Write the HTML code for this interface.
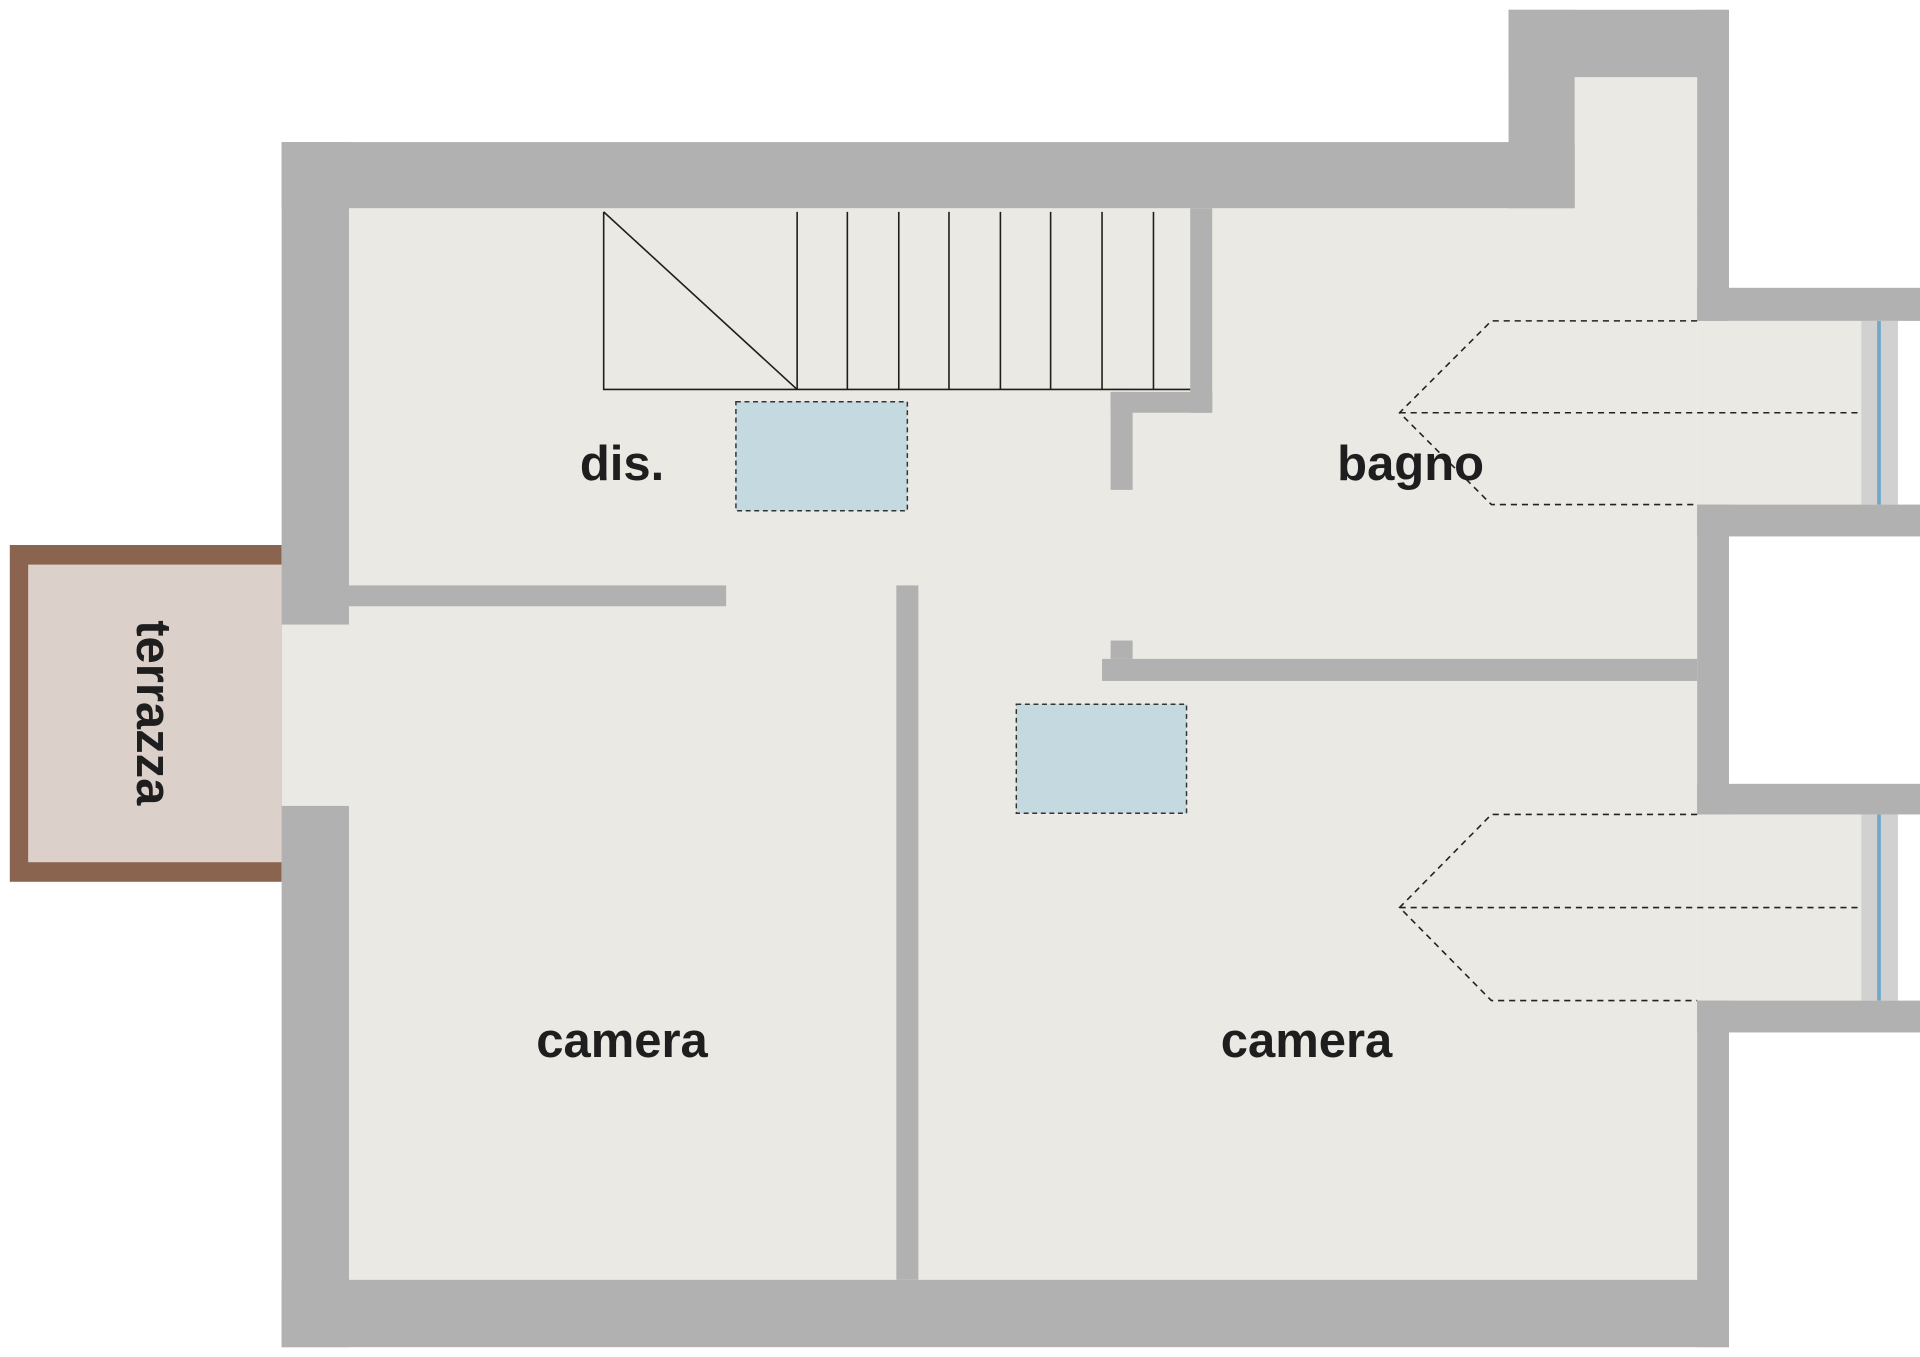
<!DOCTYPE html>
<html><head><meta charset="utf-8"><style>
html,body{margin:0;padding:0;background:#fff;width:1920px;height:1357px;overflow:hidden}
svg{display:block}
text{font-family:"Liberation Sans Narrow","Liberation Sans",sans-serif;font-weight:bold;fill:#1e1e1e;font-size:40px}
</style></head><body>
<svg width="1920" height="1357" viewBox="0 0 1568 1108" preserveAspectRatio="none">
<!-- floor -->
<rect x="285" y="170" width="1101" height="875" fill="#ebe9e3"/>
<rect x="1286" y="63" width="100" height="110" fill="#ebe9e3"/>
<rect x="230" y="510" width="55" height="148" fill="#ebe9e3"/>
<rect x="1386" y="262" width="134" height="150" fill="#ebe9e3"/>
<rect x="1386" y="665" width="134" height="152" fill="#ebe9e3"/>
<!-- windows -->
<rect x="1520" y="262" width="30" height="150" fill="#d1d1d1"/>
<rect x="1533" y="262" width="3" height="150" fill="#6fa8c8"/>
<rect x="1520" y="665" width="30" height="152" fill="#d1d1d1"/>
<rect x="1533" y="665" width="3" height="152" fill="#6fa8c8"/>
<!-- terrazza -->
<rect x="8" y="445" width="222" height="275" fill="#8b6450"/>
<rect x="23" y="461" width="207" height="243" fill="#dcd0cb"/>
<!-- walls -->
<g fill="#b1b1b1">
<rect x="230" y="116" width="1056" height="54"/>
<rect x="1232" y="8" width="54" height="162"/>
<rect x="1232" y="8" width="180" height="55"/>
<rect x="1386" y="8" width="26" height="254"/>
<rect x="1386" y="235" width="182" height="27"/>
<rect x="1386" y="412" width="26" height="253"/>
<rect x="1386" y="412" width="182" height="26"/>
<rect x="1386" y="640" width="182" height="25"/>
<rect x="1386" y="817" width="26" height="283"/>
<rect x="1386" y="817" width="182" height="26"/>
<rect x="230" y="116" width="55" height="394"/>
<rect x="230" y="658" width="55" height="442"/>
<rect x="230" y="1045" width="1182" height="55"/>
<rect x="285" y="478" width="308" height="17"/>
<rect x="732" y="478" width="18" height="567"/>
<rect x="900" y="538" width="486" height="18"/>
<rect x="907" y="523" width="18" height="15"/>
<rect x="972" y="170" width="18" height="167"/>
<rect x="907" y="320" width="83" height="17"/>
<rect x="907" y="320" width="18" height="80"/>
</g>
<!-- stairs -->
<g stroke="#1e1e1e" stroke-width="1.3" fill="none">
<path d="M493 173V318H972M493 173L651 318"/>
<path d="M651 173V318M692 173V318M734 173V318M775 173V318M817 173V318M858 173V318M900 173V318M942 173V318"/>
</g>
<!-- skylights -->
<g fill="#c4dae0" stroke="#333" stroke-width="1.2" stroke-dasharray="4 3">
<rect x="601" y="328" width="140" height="89"/>
<rect x="830" y="575" width="139" height="89"/>
</g>
<g stroke="#222" stroke-width="1.3" fill="none" stroke-dasharray="5 4">
<path d="M1386 262H1218L1143 337L1218 412H1386M1143 337H1518"/>
<path d="M1386 665H1218L1143 741L1218 817H1386M1143 741H1518"/>
</g>
<text x="508" y="392" text-anchor="middle">dis.</text>
<text x="1152" y="392" text-anchor="middle">bagno</text>
<text x="508" y="863" text-anchor="middle">camera</text>
<text x="1067" y="863" text-anchor="middle">camera</text>
<text transform="translate(112 582) rotate(90)" text-anchor="middle">terrazza</text>
</svg>
</body></html>
